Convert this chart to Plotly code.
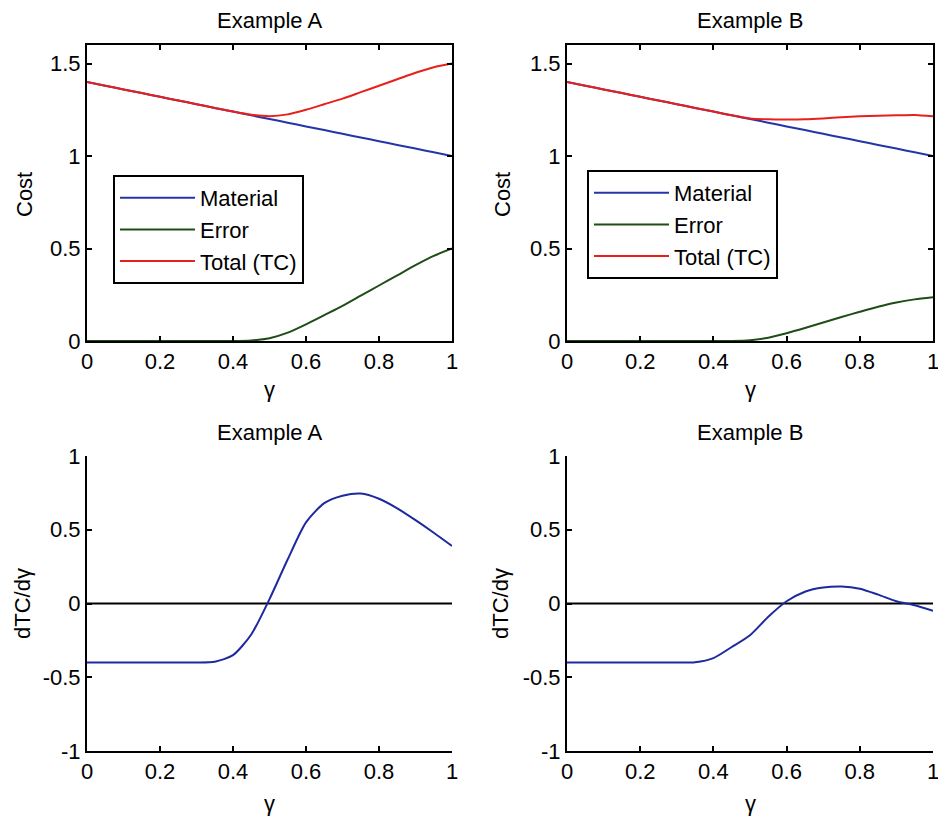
import plotly.graph_objects as go

gamma = [0.0, 0.05, 0.1, 0.15, 0.2, 0.25, 0.3, 0.35, 0.4, 0.45, 0.5,
         0.55, 0.6, 0.65, 0.7, 0.75, 0.8, 0.85, 0.9, 0.95, 1.0]

material = [1.40, 1.38, 1.36, 1.34, 1.32, 1.30, 1.28, 1.26, 1.24, 1.22, 1.20,
            1.18, 1.16, 1.14, 1.12, 1.10, 1.08, 1.06, 1.04, 1.02, 1.00]

error_a = [0, 0, 0, 0, 0, 0, 0, 0, 0, 0.003, 0.015,
           0.045, 0.09, 0.14, 0.19, 0.245, 0.30, 0.355, 0.41, 0.46, 0.50]
total_a = [1.40, 1.38, 1.36, 1.34, 1.32, 1.30, 1.28, 1.26, 1.24, 1.223, 1.215,
           1.225, 1.25, 1.28, 1.31, 1.345, 1.38, 1.415, 1.45, 1.48, 1.50]

error_b = [0, 0, 0, 0, 0, 0, 0, 0, 0, 0, 0.004,
           0.018, 0.042, 0.07, 0.10, 0.13, 0.158, 0.185, 0.208, 0.225, 0.237]
total_b = [1.40, 1.38, 1.36, 1.34, 1.32, 1.30, 1.28, 1.26, 1.24, 1.22, 1.203,
           1.198, 1.197, 1.198, 1.203, 1.21, 1.215, 1.218, 1.22, 1.222, 1.215]

dtc_a = [-0.4, -0.4, -0.4, -0.4, -0.4, -0.4, -0.4, -0.395, -0.35, -0.21, 0.03,
         0.30, 0.55, 0.68, 0.73, 0.745, 0.71, 0.645, 0.565, 0.48, 0.39]
dtc_b = [-0.4, -0.4, -0.4, -0.4, -0.4, -0.4, -0.4, -0.398, -0.37, -0.295, -0.215,
         -0.09, 0.015, 0.08, 0.108, 0.115, 0.10, 0.06, 0.015, -0.012, -0.05]

zero_x = [0, 1]
zero_y = [0, 0]

x_ticks = [0, 0.2, 0.4, 0.6, 0.8, 1]
x_ticklabels = ["0", "0.2", "0.4", "0.6", "0.8", "1"]
cost_ticks = [0, 0.5, 1, 1.5]
cost_ticklabels = ["0", "0.5", "1", "1.5"]
d_ticks = [-1, -0.5, 0, 0.5, 1]
d_ticklabels = ["-1", "-0.5", "0", "0.5", "1"]

titles = ["Example A", "Example B", "Example A", "Example B"]

BLUE = "#2535a8"
GREEN = "#1f4d17"
RED = "#e8201c"
DBLUE = "#1c2a9e"
FONT = "Liberation Sans, Arial, sans-serif"
FS = 22
W, H = 938, 818

fig = go.Figure()

def add_cost(xa, ya, err, tot, leg):
    fig.add_trace(go.Scatter(x=gamma, y=material, mode="lines", name="Material",
                             line=dict(color=BLUE, width=2, shape="spline", smoothing=0.7),
                             xaxis=xa, yaxis=ya, legend=leg))
    fig.add_trace(go.Scatter(x=gamma, y=err, mode="lines", name="Error",
                             line=dict(color=GREEN, width=2, shape="spline", smoothing=0.7),
                             xaxis=xa, yaxis=ya, legend=leg))
    fig.add_trace(go.Scatter(x=gamma, y=tot, mode="lines", name="Total (TC)",
                             line=dict(color=RED, width=2, shape="spline", smoothing=0.7),
                             xaxis=xa, yaxis=ya, legend=leg))

add_cost("x", "y", error_a, total_a, "legend")
add_cost("x2", "y2", error_b, total_b, "legend2")

for xa, ya, d in [("x3", "y3", dtc_a), ("x4", "y4", dtc_b)]:
    fig.add_trace(go.Scatter(x=zero_x, y=zero_y, mode="lines", showlegend=False,
                             line=dict(color="black", width=2), xaxis=xa, yaxis=ya))
    fig.add_trace(go.Scatter(x=gamma, y=d, mode="lines", showlegend=False,
                             line=dict(color=DBLUE, width=2, shape="spline", smoothing=0.7),
                             xaxis=xa, yaxis=ya))

xl = [87 / W, 452 / W]
xr = [567 / W, 933 / W]
yt = [1 - 341 / H, 1 - 45 / H]
yb = [1 - 751 / H, 1 - 456 / H]

def xaxis(domain, anchor, mirror):
    return dict(domain=domain, anchor=anchor, range=[0, 1], tickvals=x_ticks,
                ticktext=x_ticklabels, ticks="inside", ticklen=5, tickwidth=1.5,
                tickcolor="black", showline=True, linecolor="black", linewidth=2,
                mirror=mirror, showgrid=False, zeroline=False, automargin=False,
                ticklabeloverflow="allow",
                tickfont=dict(family=FONT, size=FS, color="black"))

def yaxis(domain, anchor, rng, tv, tt, mirror):
    return dict(domain=domain, anchor=anchor, range=rng, tickvals=tv, ticktext=tt,
                ticks="inside", ticklen=5, tickwidth=1.5, tickcolor="black",
                showline=True, linecolor="black", linewidth=2, mirror=mirror,
                showgrid=False, zeroline=False, automargin=False,
                ticklabeloverflow="allow",
                tickfont=dict(family=FONT, size=FS, color="black"))

legend_common = dict(bgcolor="white", bordercolor="black", borderwidth=2,
                     font=dict(family=FONT, size=FS, color="black"),
                     xanchor="left", yanchor="top", itemwidth=75,
                     tracegroupgap=0)

fig.update_layout(
    template="none",
    width=W, height=H,
    margin=dict(l=0, r=0, t=0, b=0, autoexpand=False),
    paper_bgcolor="white", plot_bgcolor="white",
    font=dict(family=FONT, size=FS, color="black"),
    xaxis=xaxis(xl, "y", "ticks"),
    yaxis=yaxis(yt, "x", [0, 1.6], cost_ticks, cost_ticklabels, "ticks"),
    xaxis2=xaxis(xr, "y2", "ticks"),
    yaxis2=yaxis(yt, "x2", [0, 1.6], cost_ticks, cost_ticklabels, "ticks"),
    xaxis3=xaxis(xl, "y3", False),
    yaxis3=yaxis(yb, "x3", [-1, 1], d_ticks, d_ticklabels, False),
    xaxis4=xaxis(xr, "y4", False),
    yaxis4=yaxis(yb, "x4", [-1, 1], d_ticks, d_ticklabels, False),
    legend=dict(x=113 / W, y=1 - 175 / H, **legend_common),
    legend2=dict(x=587 / W, y=1 - 170 / H, **legend_common),
)

annots = []
centers = [((xl[0] + xl[1]) / 2, 20), ((xr[0] + xr[1]) / 2, 20),
           ((xl[0] + xl[1]) / 2, 432), ((xr[0] + xr[1]) / 2, 432)]
for (cx, py), t in zip(centers, titles):
    annots.append(dict(x=cx, y=1 - py / H, xref="paper", yref="paper", text=t,
                       showarrow=False, xanchor="center", yanchor="middle",
                       font=dict(family=FONT, size=FS, color="black")))
for cx, py in [((xl[0] + xl[1]) / 2, 390), ((xr[0] + xr[1]) / 2, 390),
               ((xl[0] + xl[1]) / 2, 803), ((xr[0] + xr[1]) / 2, 803)]:
    annots.append(dict(x=cx, y=1 - py / H, xref="paper", yref="paper", text="γ",
                       showarrow=False, xanchor="center", yanchor="middle",
                       font=dict(family=FONT, size=FS, color="black")))
for px, py, t in [(25, 195, "Cost"), (503, 195, "Cost"),
                  (22, 604, "dTC/dγ"), (500, 604, "dTC/dγ")]:
    annots.append(dict(x=px / W, y=1 - py / H, xref="paper", yref="paper", text=t,
                       textangle=-90, showarrow=False, xanchor="center",
                       yanchor="middle",
                       font=dict(family=FONT, size=FS, color="black")))
fig.update_layout(annotations=annots)

fig.write_html("out.html", config={"displayModeBar": False},
               post_script="document.body.style.margin='0';"
                           "document.body.style.overflow='hidden';")
